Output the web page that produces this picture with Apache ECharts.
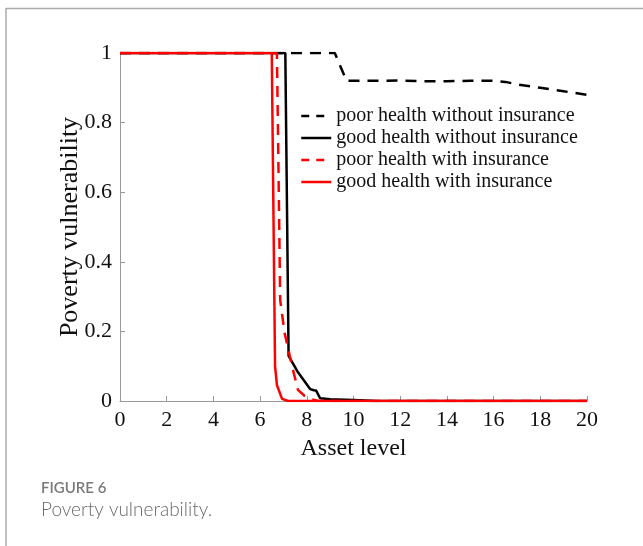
<!DOCTYPE html>
<html>
<head>
<meta charset="utf-8">
<script src="https://cdn.jsdelivr.net/npm/echarts@6/dist/echarts.min.js"></script>
<style>
  html, body { margin: 0; padding: 0; background: #fff; }
  #chart { width: 643px; height: 546px; }
</style>
</head>
<body>
<div id="chart"></div>
<script>
// Asset level (x) and poverty vulnerability (y) for each scenario
const poorNoInsX = [0, 9.2, 9.7, 10, 11, 12, 13, 14, 15, 16, 16.5, 17, 18, 19, 20];
const poorNoInsY = [1, 1, 0.92, 0.92, 0.92, 0.921, 0.919, 0.919, 0.92, 0.92, 0.917, 0.91, 0.90, 0.89, 0.88];

const goodNoInsX = [0, 7.08, 7.22, 7.24, 7.6, 8.15, 8.3, 8.4, 8.57, 9, 10, 11, 20];
const goodNoInsY = [1, 1, 0.13, 0.127, 0.085, 0.034, 0.031, 0.03, 0.008, 0.005, 0.003, 0, 0];

const poorInsX = [0, 6.72, 6.8, 6.86, 7.05, 7.37, 7.62, 7.9, 8.22, 8.5, 20];
const poorInsY = [1, 1, 0.6, 0.29, 0.195, 0.1, 0.032, 0.015, 0.005, 0, 0];

const goodInsX = [0, 6.5, 6.64, 6.72, 6.94, 7.2, 20];
const goodInsY = [1, 1, 0.1, 0.046, 0.006, 0, 0];

const xTicks = [0, 2, 4, 6, 8, 10, 12, 14, 16, 18, 20];
const yTicks = [0, 0.2, 0.4, 0.6, 0.8, 1];

const seriesNames = [
  'poor health without insurance',
  'good health without insurance',
  'poor health with insurance',
  'good health with insurance'
];
const seriesDashed = [true, false, true, false];

function pairs(xs, ys) {
  return xs.map((x, i) => [x, ys[i]]);
}

const serif = '"Liberation Serif", "Times New Roman", serif';
const chart = echarts.init(document.getElementById('chart'), null, { renderer: 'canvas' });

function lineSeries(name, data, color, dashed) {
  return {
    name: name,
    type: 'line',
    data: data,
    symbol: 'none',
    showSymbol: false,
    animation: false,
    lineStyle: {
      color: color,
      width: 2.5,
      type: dashed ? [11, 8] : 'solid'
    },
    itemStyle: { color: color },
    z: dashed ? 3 : 2
  };
}

chart.setOption({
  backgroundColor: '#fff',
  animation: false,
  grid: { left: 120, right: 56, top: 53, bottom: 145, containLabel: false },
  legend: {
    orient: 'vertical',
    left: 300,
    top: 106,
    padding: 0,
    itemWidth: 30,
    itemHeight: 14,
    itemGap: 2,
    itemStyle: { opacity: 0 },
    data: seriesNames.map((n, i) => ({
      name: n,
      lineStyle: { width: 2.5, type: seriesDashed[i] ? [8, 7] : 'solid' }
    })),
    textStyle: { fontFamily: serif, fontSize: 20, color: '#111', lineHeight: 20 }
  },
  xAxis: {
    type: 'value',
    min: 0,
    max: 20,
    interval: 2,
    name: 'Asset level',
    nameLocation: 'middle',
    nameGap: 36,
    nameMoveOverlap: false,
    nameTextStyle: { fontFamily: serif, fontSize: 24, color: '#111' },
    axisLine: { show: true, lineStyle: { color: '#999', width: 1 } },
    axisTick: { show: true, inside: true, length: 5, lineStyle: { color: '#999' } },
    axisLabel: { fontFamily: serif, fontSize: 22, color: '#111', margin: 8,
      formatter: v => xTicks.includes(v) ? String(v) : '' },
    splitLine: { show: false }
  },
  yAxis: {
    type: 'value',
    min: 0,
    max: 1,
    interval: 0.2,
    name: 'Poverty vulnerability',
    nameLocation: 'middle',
    nameGap: 37,
    nameMoveOverlap: false,
    nameTextStyle: { fontFamily: serif, fontSize: 26, color: '#111' },
    axisLine: { show: true, lineStyle: { color: '#999', width: 1 } },
    axisTick: { show: true, inside: true, length: 5, lineStyle: { color: '#999' } },
    axisLabel: { fontFamily: serif, fontSize: 22, color: '#111', margin: 8,
      formatter: v => {
        const t = yTicks.find(k => Math.abs(k - v) < 1e-9);
        return t === undefined ? '' : String(t);
      } },
    splitLine: { show: false }
  },
  series: [
    lineSeries(seriesNames[0], pairs(poorNoInsX, poorNoInsY), '#000', true),
    lineSeries(seriesNames[1], pairs(goodNoInsX, goodNoInsY), '#000', false),
    lineSeries(seriesNames[2], pairs(poorInsX, poorInsY), '#f00', true),
    lineSeries(seriesNames[3], pairs(goodInsX, goodInsY), '#f00', false)
  ],
  graphic: [
    // figure frame (top and left edges)
    { type: 'line', shape: { x1: 6, y1: 8.5, x2: 643, y2: 8.5 }, style: { stroke: '#aaa', lineWidth: 1.5 }, silent: true },
    { type: 'line', shape: { x1: 6, y1: 8, x2: 6, y2: 546 }, style: { stroke: '#aaa', lineWidth: 1.5 }, silent: true },
    { type: 'text', left: 41, top: 481, style: { text: 'FIGURE 6', font: '600 15px Lato, "Open Sans", sans-serif', fill: '#7a7a7a' }, silent: true },
    { type: 'text', left: 41, top: 500, style: { text: 'Poverty vulnerability.', font: '300 19px Lato, "Open Sans", sans-serif', fill: '#6a6a6a' }, silent: true }
  ]
});
</script>
</body>
</html>
